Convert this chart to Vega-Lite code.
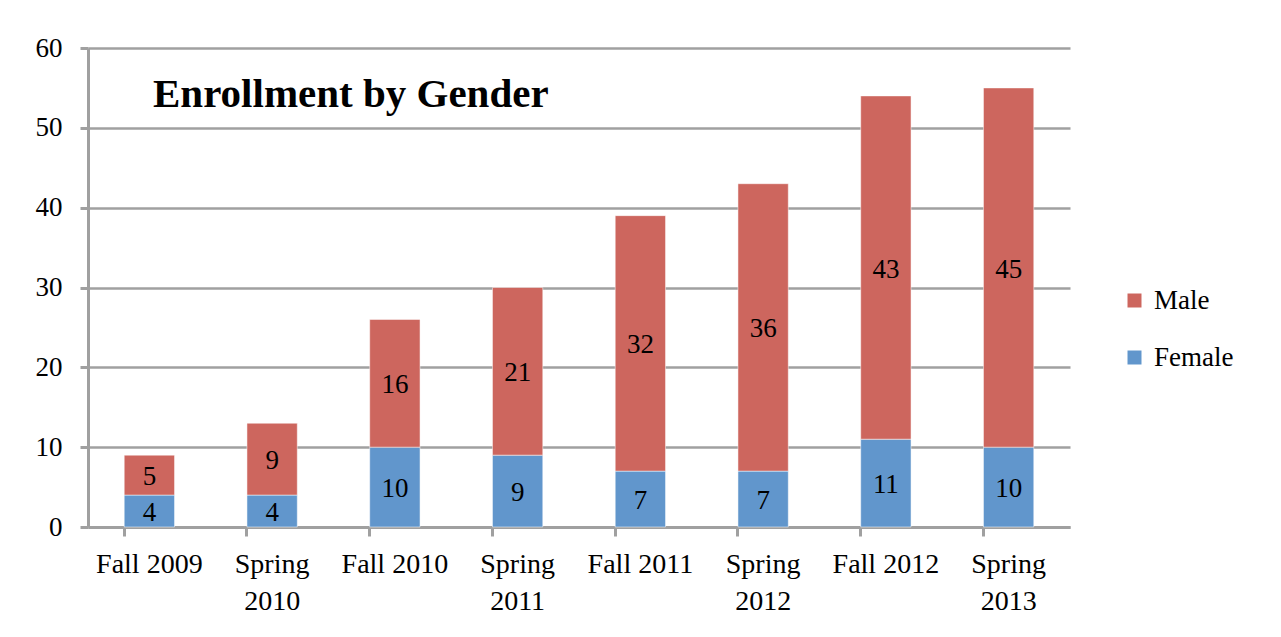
{
  "$schema": "https://vega.github.io/schema/vega-lite/v6.json",
  "width": 982,
  "height": 479,
  "autosize": {"type": "none"},
  "padding": {"left": 88, "top": 48, "right": 211, "bottom": 110},
  "background": "white",
  "title": {
    "text": "Enrollment by Gender",
    "anchor": "start",
    "frame": "group",
    "orient": "top",
    "offset": -55,
    "dx": 65,
    "dy": 59,
    "baseline": "alphabetic",
    "font": "Liberation Serif",
    "fontSize": 41,
    "fontWeight": "bold",
    "color": "black"
  },
  "data": {
    "values": [
      {"term": "Fall 2009", "gender": "Female", "count": 4},
      {"term": "Fall 2009", "gender": "Male", "count": 5},
      {"term": "Spring 2010", "gender": "Female", "count": 4},
      {"term": "Spring 2010", "gender": "Male", "count": 9},
      {"term": "Fall 2010", "gender": "Female", "count": 10},
      {"term": "Fall 2010", "gender": "Male", "count": 16},
      {"term": "Spring 2011", "gender": "Female", "count": 9},
      {"term": "Spring 2011", "gender": "Male", "count": 21},
      {"term": "Fall 2011", "gender": "Female", "count": 7},
      {"term": "Fall 2011", "gender": "Male", "count": 32},
      {"term": "Spring 2012", "gender": "Female", "count": 7},
      {"term": "Spring 2012", "gender": "Male", "count": 36},
      {"term": "Fall 2012", "gender": "Female", "count": 11},
      {"term": "Fall 2012", "gender": "Male", "count": 43},
      {"term": "Spring 2013", "gender": "Female", "count": 10},
      {"term": "Spring 2013", "gender": "Male", "count": 45}
    ]
  },
  "transform": [
    {"stack": "count", "groupby": ["term"], "sort": [{"field": "gender", "order": "ascending"}], "as": ["y0", "y1"]},
    {"calculate": "(datum.y0 + datum.y1) / 2", "as": "mid"}
  ],
  "encoding": {
    "x": {
      "field": "term",
      "type": "nominal",
      "sort": null,
      "title": null,
      "scale": {"paddingInner": 0.59, "paddingOuter": 0.295},
      "axis": {
        "labelAngle": 0,
        "bandPosition": 0,
        "tickSize": 9,
        "labelPadding": 14,
        "labelFontSize": 28,
        "labelLineHeight": 37,
        "labelBaseline": "top",
        "labelExpr": "indexof(datum.label, 'Spring') == 0 ? split(datum.label, ' ') : datum.label"
      }
    }
  },
  "layer": [
    {
      "mark": {"type": "bar", "stroke": "white", "strokeWidth": 0.5},
      "encoding": {
        "y": {
          "field": "y0",
          "type": "quantitative",
          "title": null,
          "scale": {"domain": [0, 60], "nice": false},
          "axis": {"values": [0, 10, 20, 30, 40, 50, 60], "grid": true, "tickSize": 8, "labelPadding": 18, "labelFontSize": 27}
        },
        "y2": {"field": "y1"},
        "color": {
          "field": "gender",
          "type": "nominal",
          "title": null,
          "scale": {"domain": ["Male", "Female"], "range": ["#CD665E", "#6196CC"]},
          "legend": {
            "orient": "none",
            "legendX": 1033,
            "legendY": 239,
            "symbolType": "square",
            "symbolSize": 196,
            "symbolStrokeWidth": 0,
            "labelFont": "Liberation Serif",
            "labelFontSize": 27,
            "labelColor": "black",
            "labelOffset": 6,
            "rowPadding": 29
          }
        }
      }
    },
    {
      "mark": {"type": "text", "font": "Liberation Serif", "fontSize": 27, "color": "black", "baseline": "middle", "dy": 2},
      "encoding": {
        "y": {"field": "mid", "type": "quantitative"},
        "text": {"field": "count", "type": "quantitative"}
      }
    }
  ],
  "config": {
    "view": {"stroke": null},
    "axis": {
      "domainColor": "#A0A0A0",
      "domainWidth": 3,
      "gridColor": "#A0A0A0",
      "gridWidth": 2.5,
      "tickColor": "#A0A0A0",
      "tickWidth": 3,
      "labelFont": "Liberation Serif",
      "labelFontSize": 26,
      "labelColor": "black"
    }
  }
}
